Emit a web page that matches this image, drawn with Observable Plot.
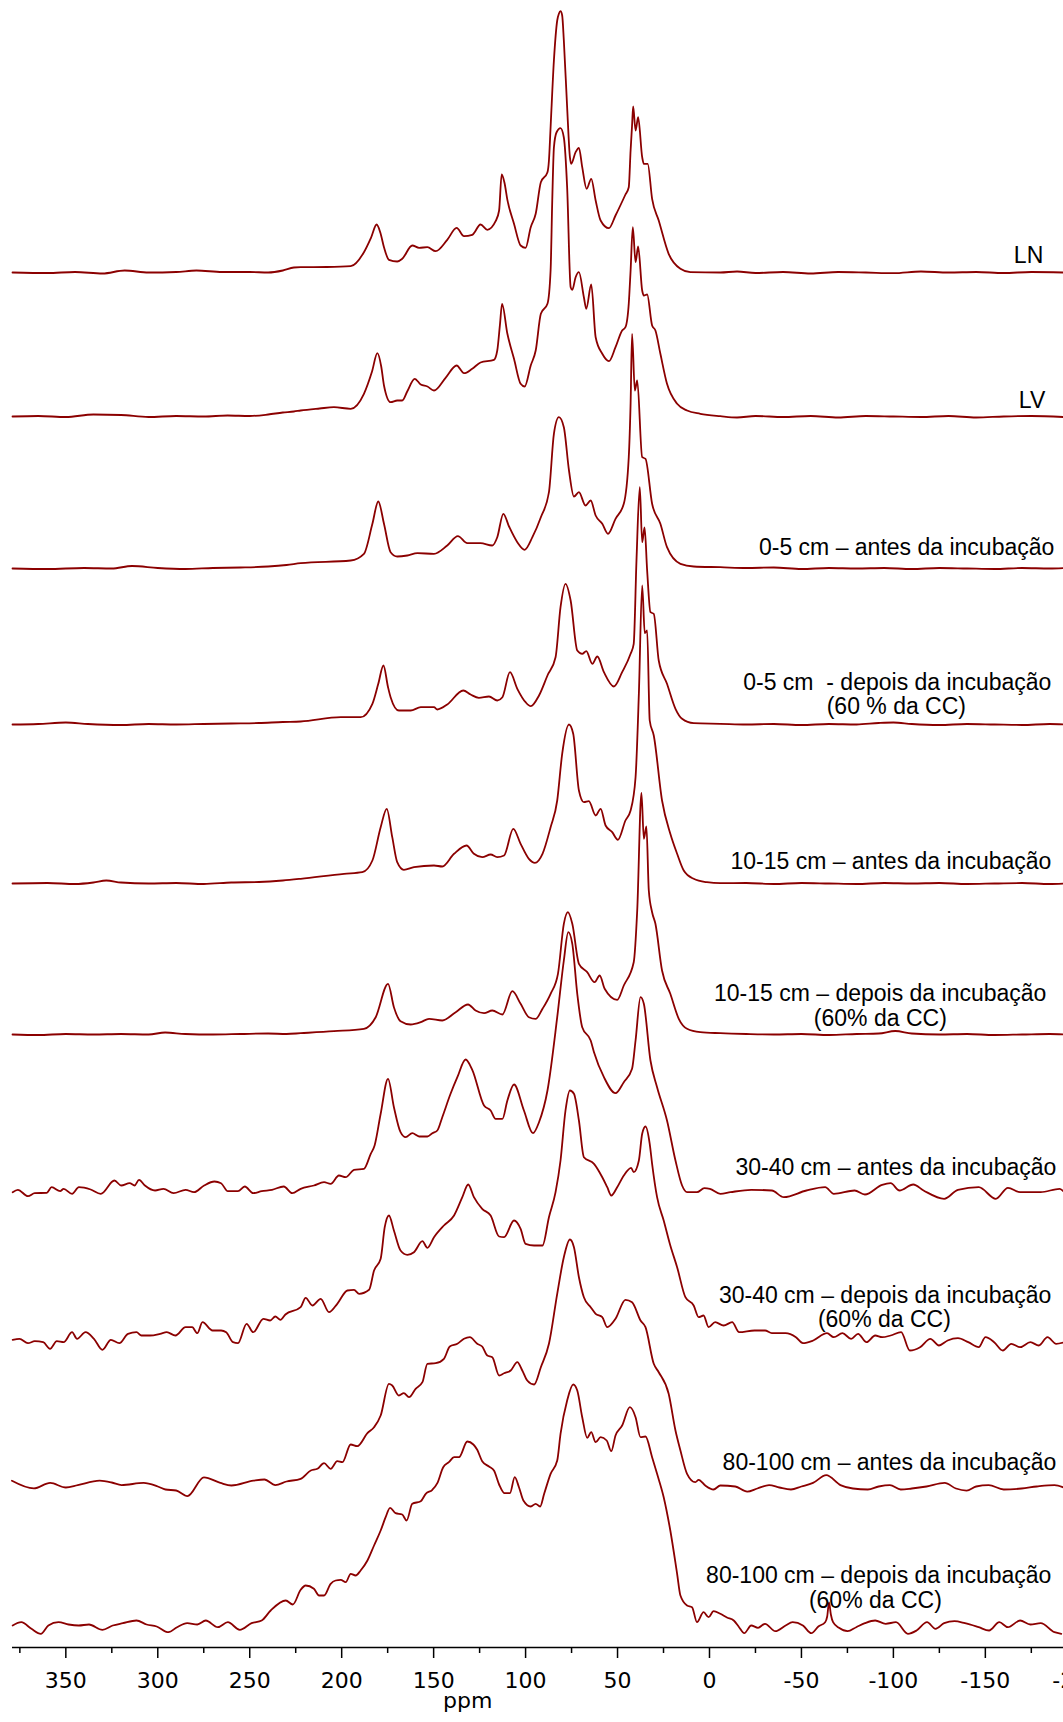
<!DOCTYPE html>
<html>
<head>
<meta charset="utf-8">
<script src="https://cdn.jsdelivr.net/npm/d3@7"></script>
<script src="https://cdn.jsdelivr.net/npm/@observablehq/plot@0.6"></script>
<style>
  html, body { margin: 0; padding: 0; background: #fff; overflow: hidden; }
  svg text { white-space: pre; }
</style>
</head>
<body>
<div id="chart"></div>
<script>
// 13C CP/MAS NMR spectra, stacked; each series is [chemical shift (ppm), intensity (a.u.)]
const sampleNames = [
  "LN",
  "LV",
  "0-5 cm – antes da incubação",
  "0-5 cm  - depois da incubação",
  "10-15 cm – antes da incubação",
  "10-15 cm – depois da incubação",
  "30-40 cm – antes da incubação",
  "30-40 cm – depois da incubação",
  "80-100 cm – antes da incubação",
  "80-100 cm – depois da incubação"
];
const moistureNotes = [null, null, null, "(60 % da CC)", null, "(60% da CC)", null, "(60% da CC)", null, "(60% da CC)"];

const majorTicks = [350, 300, 250, 200, 150, 100, 50, 0, -50, -100, -150, -200];
const minorTicks = [375, 325, 275, 225, 175, 125, 75, 25, -25, -75, -125, -175];
const axisTitle = "ppm";

const specLN = [[379,0],[360,-0.5],[345,0.5],[330,-1],[318,2],[305,0],[290,0.5],[279,2],[265,0.5],[250,0.5],[240,0],[232,2],[226,5],[222.3,5.3],[208,5.5],[195.1,6.3],[187.9,20.3],[184,35],[181,48],[179,40],[177,25.3],[174.3,12.7],[169.8,11],[167.1,13.7],[161.6,27],[157.9,24.7],[153.4,25.3],[148.9,21.3],[142.6,32.7],[137.5,44.7],[133.5,36.3],[129,37.7],[124.5,48],[120.8,42.7],[116.3,51.3],[114.4,62],[113,98],[111.5,90],[109.9,72.7],[106.3,48.7],[102.7,27],[100,24.7],[97.2,45.3],[94.5,58.7],[91.7,90.3],[88.1,100.3],[87.3,112],[86.4,145.3],[84.6,212],[82.8,252],[81.9,258.7],[81,261.3],[80.1,257],[79.2,232],[77.4,165],[75.9,115.3],[75.2,108.7],[72.8,120.3],[71,124.7],[69.2,105.3],[66.8,83.7],[64.3,93.7],[61.9,72],[59.2,52],[54.7,44.3],[51.1,57],[45.7,78],[43.9,85.3],[42.9,122],[42.1,147],[41.5,166],[40.2,142],[38.8,155.3],[36.6,115.3],[35.7,108.7],[33.6,108.7],[31.2,73.7],[27.6,52],[22.2,18.7],[15.8,3.7],[10.4,0.3],[-5.9,0],[-15,1],[-25,-0.5],[-40,0.5],[-55,-1],[-70,0.5],[-85,0],[-100,-0.7],[-115,1],[-130,0],[-145,0.5],[-160,-0.5],[-175,0.5],[-192.5,0]];

const specLV = [[379,0],[365,0.5],[350,-0.5],[335,2],[320,1.5],[305,-0.5],[290,0.5],[275,0],[262,1],[250,0.5],[240,2],[232,4],[226,5],[222.3,6],[212,8],[204.2,9.3],[195.1,7.7],[187.9,22.7],[183.5,45],[180.6,63.3],[178.5,50],[177,31],[173.4,14.3],[169.8,16],[167.1,16],[164.3,25.3],[160.3,37.7],[157,32],[153.4,30],[149.8,26],[143.5,38.7],[137.5,51],[133.5,43.3],[129,47.7],[124.5,54],[117.2,56.7],[115.4,66],[113.9,92.7],[112.8,112.7],[109.9,82.7],[106.3,57.7],[102.7,32.7],[100.5,30],[97.2,51],[94.5,66],[91.7,102.7],[88.1,112.7],[86.4,146],[85.5,216],[84.6,269],[83.2,284],[81,288.3],[79.2,279],[77.4,229],[75.5,129.3],[74.6,126.7],[72.8,139.3],[71,144.3],[68.3,119.3],[67,107.7],[64.3,132],[61.9,79.3],[58.3,62.7],[54.7,55.3],[51.1,69.3],[47.5,86],[45.7,89.3],[43.9,112.7],[42.9,146],[41.7,189.3],[40.2,154.3],[38.8,170],[36.6,126],[35.7,121],[33.9,122],[31.2,91],[29.4,86],[26.7,62.7],[23.1,32.7],[17.6,12.7],[12.2,6],[5,2.7],[-5.9,0.3],[-15,-1],[-25,0.5],[-40,-0.5],[-55,0.5],[-70,-1],[-85,0.5],[-100,0],[-115,-0.5],[-130,0.5],[-145,-1],[-160,0],[-175,0.5],[-192.5,-0.5]];

const spec05Before = [[379,0],[360,-0.5],[340,0.5],[325,0],[314,2.5],[300,0.5],[285,-0.5],[270,0.5],[255,1],[240,2],[230,3.5],[222.3,5.3],[195.1,8],[187.9,14.7],[183.3,44.7],[180.1,67],[177,44.7],[173.4,16.3],[169.8,12],[164.3,13],[158.8,15.3],[149.8,14.7],[142.6,23],[136.8,32.3],[131.7,25.3],[124.5,25.3],[118.1,23],[115.4,31.3],[112.1,54.7],[109,42],[104.5,26.3],[100.5,18.7],[96.3,31.3],[91.7,51.3],[87.3,76.3],[84.6,134.7],[81.9,151.3],[79.2,141.3],[76.4,98],[73.7,72],[71,76.3],[67.4,63],[64.6,68],[61.9,53],[58.3,44.7],[55.2,34.7],[51.1,49.7],[46.6,64.7],[43.9,111.3],[42.9,164.7],[42.1,234.7],[40.6,178],[39.3,188],[36.6,111.3],[34.8,109.7],[31.2,64.7],[26.7,44.7],[23.1,21.3],[15.8,4.7],[8.6,2],[-5.9,1.3],[-20,0.5],[-35,1],[-50,-0.5],[-65,0.5],[-80,0],[-95,0.5],[-110,-0.5],[-125,0.5],[-140,0],[-155,-0.5],[-170,0.5],[-185,0],[-192.5,0.5]];

const spec05After = [[379,0],[365,0.5],[350,2],[338,0.5],[320,-0.5],[305,0.5],[290,0],[275,0.5],[260,1],[245,1.5],[232,2.5],[222.3,3],[200.5,7.3],[189.7,7.3],[183.3,20.7],[180.1,40.7],[177.3,59],[174.8,37.3],[173.4,27.3],[168.9,14],[162.5,14],[157,17.3],[149.8,17.3],[148,15],[142.6,20],[133.9,34],[129.9,30],[125.4,26.7],[119.9,28],[115.4,24],[112.6,27.3],[108.5,52.3],[104.5,35.7],[100,22.3],[97.2,18.3],[92.7,29],[88.1,49],[83.7,67.3],[81,117.3],[78.3,140.7],[75.5,124],[71.9,74],[69.2,70.7],[67,73.3],[63.7,60.7],[61,68],[57.4,52.3],[52,38],[47.5,52.3],[42.9,70.7],[41.2,80.7],[39.7,164],[37.9,237.3],[36.6,182.3],[35.3,197],[33.9,154],[32.1,112.3],[30.3,110.7],[27.6,64],[23.1,40.7],[18.5,15.7],[14.9,5.7],[8.6,1.3],[-5.9,0.7],[-20,0],[-35,0.5],[-50,-0.5],[-65,0.5],[-80,0],[-92,1.5],[-100,2],[-110,0.5],[-125,-0.5],[-140,0.5],[-155,0],[-170,-0.5],[-185,0.5],[-192.5,0]];

const spec1015Before = [[379,0],[360,0.5],[345,-0.5],[335,1],[328,3],[320,1],[305,0],[290,0.5],[275,-0.5],[260,1],[245,1.5],[232,3],[222.3,4.7],[198.7,9.7],[188.8,11.3],[183.3,23],[178.8,56.3],[175.5,74.7],[172.5,46.3],[169.8,21.3],[166.2,13.7],[160.7,16.3],[149.8,18],[145.3,17],[138.9,29.7],[132.1,38],[128.1,29.7],[123.6,26.3],[119,29],[115.4,26.3],[111.7,28],[106.7,54.7],[102.7,39.7],[98.2,24.7],[94.9,20.7],[90.8,29.7],[86.4,56.3],[82.8,83],[80.1,129.7],[76.4,159],[74.1,149.7],[71,93],[68.3,81.3],[65.6,82.3],[61.9,68],[59.2,74.7],[56.5,58],[52.9,51.3],[49.8,43.7],[45.7,63],[42.9,73],[40.2,106.3],[38.4,189.7],[36.6,298],[35.2,250.3],[33.9,253],[32.5,163],[30.3,148],[25.8,83],[21.3,49.7],[17.6,29.7],[14,13],[8.6,4.7],[1.4,1.3],[-5.9,0.3],[-20,0.5],[-35,-0.5],[-50,0.5],[-65,0],[-80,-0.5],[-95,0.5],[-110,0],[-125,0.5],[-140,-0.5],[-155,0],[-170,0.5],[-185,-0.5],[-192.5,0]];

const spec1015After = [[379,0],[365,-0.5],[350,0.5],[335,0],[320,0.5],[305,0],[296,2],[285,0.5],[270,0],[255,0.5],[240,1],[230,0.5],[222.3,1.3],[204.2,3.3],[187.9,5.7],[181.5,17.3],[174.8,50.7],[171.6,27.3],[168,13.3],[162.5,10],[157,12.3],[152.5,15.7],[145.3,14],[138,22.3],[131.3,30],[127.2,24],[122.6,21.3],[118.1,24],[112.6,20],[107.2,43.3],[102.7,30.7],[98.2,17.3],[94.5,15.7],[90.8,25.7],[86.4,40.7],[82.4,60.7],[79.2,110.7],[77,122.3],[74.6,110.7],[71,70.7],[66.5,62.3],[62.5,52.3],[59.7,59],[57,45.7],[50.2,34.7],[46.6,49],[41.2,72.3],[39.3,124],[37,241.7],[35.7,195.7],[34.3,208],[33,144],[31.2,122.3],[29.4,110.7],[25.8,64],[21.3,40.7],[16.7,15.7],[12.2,5.7],[5,2.3],[-5.9,1.3],[-20,0.5],[-35,0],[-50,0.5],[-65,-0.5],[-80,0.5],[-92,1],[-101,3.5],[-110,1],[-125,0],[-140,0.5],[-155,-0.5],[-170,0],[-185,0.5],[-192.5,0]];

const spec3040Before = [[378.9,-0.7],[376.1,1.7],[370.6,-4.7],[366.9,-1.7],[360.4,-1.3],[357.7,4.3],[353.1,0.3],[351.2,2.7],[346.6,-2.3],[342.9,4.3],[336.5,2],[331,-2.3],[323.6,11],[319.9,6],[315.3,8.3],[312.6,6],[310.2,11.7],[307,6],[301.5,1],[296.9,2.7],[291.4,-1.7],[284.9,1.7],[280.3,-0.7],[274.8,6],[269.2,10],[265.6,8.3],[261.9,0.3],[256.4,0.3],[252.7,5],[248.1,-1.7],[243.5,0.3],[237.9,1.7],[231.5,5],[226.9,-1.7],[222.3,2.7],[215.1,6],[209.6,9.3],[206,7.7],[201.5,16],[197.8,14.3],[193.3,21.7],[187.9,22.7],[184.2,37.7],[182.1,46],[178.8,77.7],[174.8,112.7],[171.6,84.3],[168,59.3],[165.2,54.3],[161.6,58.3],[157.9,55],[153.4,55],[150.7,58.3],[148,61],[145.3,74.3],[140.8,97.7],[137.1,114.3],[132.6,132],[129,121.7],[122.6,86],[119,81],[116.3,72.7],[112.6,72.7],[109.9,91],[106.3,107],[100.9,81],[96,58.3],[92.7,69.3],[88.1,101],[82.8,174.3],[79.2,231],[76.8,259.3],[74.6,247.7],[71.9,197.7],[69.2,164.3],[64.6,151],[62.8,139.3],[57.4,114.3],[51.1,98.3],[46.6,109.3],[42.1,122.7],[40.2,151],[37.5,194.3],[35.7,187.7],[32.1,131],[28.5,104.3],[23.1,71],[18.5,31],[14.9,6],[12.2,-0.7],[6.8,-0.7],[2.8,3.3],[-0.2,2.7],[-5.9,-2.3],[-11.4,-0.7],[-22.7,1.7],[-33.9,1],[-40.4,-5.7],[-52.7,1],[-62.9,4.3],[-67.6,-2.3],[-78.9,1],[-84.5,-3],[-93.9,6.7],[-98.5,8.3],[-103.3,1],[-110.8,7],[-116.4,1],[-127.6,-7.3],[-135.1,1.7],[-146.4,4.3],[-155.7,-7.3],[-162.3,3.7],[-168.9,-0.7],[-180.1,-0.7],[-190.4,2.7],[-192.5,0]];

const spec3040After = [[378.9,2.7],[375.2,3.7],[370.6,-0.7],[366.9,1.3],[362.3,0.3],[358.6,-6.3],[354.9,1.3],[351.2,0.3],[346.6,10.3],[343.9,3.7],[339.3,10.3],[334.7,3.7],[330.1,-7.3],[325.5,2.7],[320.9,-0.7],[316.2,8.7],[311.6,10.3],[308.9,7],[304.2,7],[298.7,8.7],[295.1,10.3],[290.4,7],[284.9,15.3],[281.3,15.3],[278.5,9.3],[275.7,20.3],[270.2,12],[265.6,12],[262.8,10.3],[259.1,0.3],[256.4,-0.7],[251.7,18.7],[248.1,10.3],[242.6,23.7],[238.9,22],[236.1,26],[233.3,22.7],[230.6,28],[222.3,35.3],[219.6,44.7],[215.9,37],[211.4,43.7],[206.9,30.3],[202.4,38.7],[196.9,52],[193.3,52.7],[190.5,48.7],[185.1,52.7],[182.4,72],[178.8,83.7],[176.6,115.3],[174.3,127],[171.6,112],[168,92],[164.3,87.7],[160.7,90.3],[156.1,101.3],[153.4,94.7],[149.8,105.3],[144.4,117],[138.9,127],[134.4,145.3],[131.2,158],[128.1,145.3],[123.6,133.7],[119,127],[114.4,106],[111.7,105.3],[106.3,122],[102.7,113.7],[100,98.7],[95.4,97],[90.8,97],[87.3,125.3],[83.7,150.3],[81,182],[78.3,232],[75.9,252],[73.7,248.7],[71,222],[68.3,185.3],[62.8,178.7],[58.3,165.3],[55.6,155.3],[53.4,147],[50.2,155.3],[46.6,167],[42.6,174.7],[41.2,170.3],[38.4,182],[36.6,208.7],[34.8,216],[32.5,198.7],[31.2,178.7],[28.5,145.3],[24.9,122],[21.3,97],[17.6,75.3],[13.1,45.3],[8.6,37],[5.9,25.3],[3.2,27],[0.5,15.3],[-3.1,20.3],[-7.7,17],[-12.3,20.3],[-16.1,10.3],[-24.5,12],[-30.2,12],[-33.9,9.3],[-41.4,9.3],[-47,5.3],[-50.8,-0.7],[-56.4,2],[-63.9,9.3],[-67.6,5.3],[-72.3,9.3],[-77,3.7],[-80.8,8.7],[-85.4,0.3],[-90.1,7],[-93.9,5.3],[-98.5,7],[-104.2,10.3],[-108.9,-8],[-114.5,-4.7],[-120.1,3.7],[-124.8,-3],[-129.5,2],[-135.1,4.3],[-140.7,0.3],[-146.4,-4.7],[-150.1,5.3],[-154.8,0.3],[-159.5,-8],[-164.1,-1.3],[-168.9,-4.7],[-174.5,0.3],[-179.1,-3],[-183.8,5.3],[-188.5,-1.3],[-192.5,0]];

const spec80100Before = [[379.3,6.8],[367.4,-0.9],[358.5,4.6],[350,0],[343.5,2.4],[331.6,6.8],[325,5],[319.7,2.4],[307.7,4.6],[300,1],[295.8,-2],[290,-3],[283.9,-8.6],[274.9,10.1],[266,4.6],[260,2],[248,6.8],[242,8],[236.1,2.4],[230,6],[222.3,8.7],[216.8,17],[213.2,18.7],[209.6,24.3],[206,18.7],[202.4,26.3],[199.6,25.3],[195.1,43],[191.5,41.3],[186,54.3],[182.4,60.3],[178.8,72],[174.3,103.7],[172.5,102],[168.9,92],[166.2,94.3],[163.4,90.3],[159.8,98.7],[156.1,105.3],[153.4,123.7],[148.9,124.3],[144.4,128.7],[141.2,141],[137.1,143.7],[133.5,148.7],[130.3,150.3],[126.3,143.7],[123.6,141],[120.8,132],[118.1,130.3],[114.4,112],[111.7,114.3],[108.1,117],[104.5,125.3],[101.8,117],[99.1,107],[95.4,103],[91.7,120.3],[87.3,143.7],[82.8,193.7],[79.2,230.3],[75.9,248],[73.7,240.3],[71,210.3],[68.3,190.3],[64.6,180.3],[61.9,173.7],[58.3,170.3],[55.6,160.3],[51.1,168.7],[45.7,187.7],[42.1,185.3],[37.5,167],[34.8,160.3],[30.3,123.7],[27.6,115.3],[22.2,93.7],[18.5,57],[15.8,37],[12.2,13.7],[7.7,5.3],[5.9,7.7],[2.3,2],[-2.2,-2],[-5.9,2],[-14,1],[-20.5,-4.2],[-26,-1],[-32.4,2.4],[-38,0],[-44.3,-2],[-50,1],[-56.3,4.6],[-63.5,12.3],[-71.2,2.4],[-78,-1],[-86.1,-2],[-92,1],[-98.1,2.4],[-104,-2],[-110,-1],[-118,1],[-127.9,4.6],[-134,-1],[-139.8,-3.1],[-145,1],[-151.8,2.4],[-160,-2],[-169.7,-1],[-178,1],[-187.6,2.4],[-192.5,0]];

const spec80100After = [[378.9,-3],[374.2,0.3],[368.7,-6.3],[363.6,-11.3],[359.5,-3],[354,0.3],[348.5,-2],[343,-3],[337.4,-2],[330.1,-7.3],[324.5,-3],[319,-0.7],[311.6,2],[306.1,-2],[300.6,-4],[294.2,-9.7],[289.5,-4.7],[284,-0.7],[278.5,-2],[273.9,2],[267.4,-4.7],[261.9,0.3],[255.4,-7.3],[249,-0.7],[243.5,2],[238.6,12],[230.4,22],[226.6,18],[222.3,32.7],[219.6,37],[215.1,33.7],[212.3,27],[209.6,27],[206,38.7],[203.3,42],[200.5,42.7],[197.8,40.3],[195.1,48.7],[192.4,47],[189.7,52],[186,62],[182.4,77],[178.8,92],[176.1,105.3],[173.7,114.7],[170.7,109.3],[167.1,108],[164.7,102],[161.6,118.7],[157,121.3],[154.3,128.7],[150.7,132.7],[148,139.3],[144.8,155.3],[141.7,160.3],[138.9,165.3],[136.2,165.3],[131.7,181],[128.4,178],[126.3,172.7],[123.6,161.3],[119.9,156],[117.2,152],[114.4,138],[111.4,129.3],[108.5,129.3],[105.9,145.3],[103.6,135.3],[101.2,122],[97.2,116],[94.5,118.7],[92.1,116],[89.9,128.7],[86.4,148.7],[82.8,162],[81,188.7],[77.4,222],[74.1,238],[71.9,232],[69.2,205.3],[66.5,184.7],[64.3,190.3],[61.9,180.3],[59.2,185.3],[55.9,182],[53.4,171.3],[51.1,187],[47.5,197],[43.3,215.3],[40.2,205.3],[37.5,185.3],[34.8,186],[31.2,165.3],[28.5,148.7],[24.9,125.3],[21.3,92],[17.6,48.7],[15.8,27],[12.2,17],[9.5,15.3],[6.8,0.3],[3.2,10.3],[0.5,5.3],[-2.2,11.3],[-5.9,8.7],[-9.5,5],[-13.2,2],[-16.1,-4.7],[-18.9,-10.7],[-22.7,-3],[-26.4,-5.3],[-30.2,-1.3],[-35.8,-8.7],[-41.4,-3],[-45.2,0.3],[-50.8,-3],[-55.4,-10.7],[-59.2,-4],[-62.9,0.3],[-64,6],[-65,20],[-66,8],[-67.2,0.3],[-70.4,-5.3],[-75.1,-8.7],[-79.8,-4.7],[-84.5,-0.7],[-90.1,2],[-95.8,-1.3],[-101.4,0.3],[-107.9,-11.3],[-112.6,-8],[-118.3,0.3],[-122.9,-6.3],[-127.6,-0.7],[-133.2,1.3],[-138.9,-0.7],[-146.4,-4.7],[-152,-8],[-157.6,0.3],[-162.3,-4.7],[-168.9,2],[-174.5,-2],[-180.1,-0.7],[-187.6,-9.7],[-191.3,-11.3]];

const spectra = [specLN, specLV, spec05Before, spec05After, spec1015Before, spec1015After,
                 spec3040Before, spec3040After, spec80100Before, spec80100After];

// Vertical stacking: baseline of each spectrum in intensity units
const stackOffset = [1375, 1231, 1079, 923, 764, 613, 456, 305, 160, 25];

// Label layout: right end (ppm) and height above the baseline for each sample name,
// plus centre (ppm) and height of the moisture note under it.
const nameRightPpm = [-181.5, -182.6, -187.5, -185.9, -185.9, -183.2, -188.6, -185.9, -188.6, -185.9];
const nameLift     = [17, 16, 21, 42, 22, 41, 24, 47, 25, 47];
const noteCenterPpm = [0, 0, 0, -101.6, 0, -92.9, 0, -95.1, 0, -90.2];
const noteLift      = [0, 0, 0, 18, 0, 16, 0, 23, 0, 22];

const traceColor = "#8b0000";
const labelFont = "Liberation Sans, Arial, sans-serif";
const axisFont = "DejaVu Sans, sans-serif";

const rows = spectra.flatMap((pts, i) =>
  pts.map(([ppm, v]) => ({series: i, ppm, level: stackOffset[i] + v}))
);

const nameRows = sampleNames.map((text, i) => ({
  text, ppm: nameRightPpm[i], level: stackOffset[i] + nameLift[i]
}));
const noteRows = moistureNotes
  .map((text, i) => ({text, ppm: noteCenterPpm[i], level: stackOffset[i] + noteLift[i]}))
  .filter(d => d.text);

const chart = Plot.plot({
  width: 1063,
  height: 1722,
  marginLeft: 12,
  marginRight: 0,
  marginTop: 0,
  marginBottom: 75,
  style: {background: "#fff", color: "#000", overflow: "visible"},
  x: {domain: [379, -192.5], label: null},
  y: {domain: [0, 1647], axis: null, label: null},
  marks: [
    Plot.line(rows, {
      x: "ppm", y: "level", z: "series",
      stroke: traceColor, strokeWidth: 1.8, curve: "monotone-x"
    }),
    Plot.text(nameRows, {
      x: "ppm", y: "level", text: "text", textAnchor: "end",
      fontSize: 23, fontFamily: labelFont, fill: "#000"
    }),
    Plot.text(noteRows, {
      x: "ppm", y: "level", text: "text", textAnchor: "middle",
      fontSize: 23, fontFamily: labelFont, fill: "#000"
    }),
    Plot.ruleY([0], {stroke: "#000", strokeWidth: 1.6}),
    Plot.axisX(minorTicks, {
      anchor: "bottom", tickSize: 6, tickFormat: () => "", strokeWidth: 1.5, label: null
    }),
    Plot.axisX(majorTicks, {
      anchor: "bottom", tickSize: 11, tickPadding: 14, tickFormat: d => String(d),
      fontSize: 22, fontFamily: axisFont, strokeWidth: 1.5, label: null
    }),
    Plot.text([axisTitle], {
      x: () => 131.5, frameAnchor: "bottom", dy: 60, text: d => d,
      fontSize: 22, fontFamily: axisFont, fill: "#000"
    })
  ]
});

document.getElementById("chart").appendChild(chart);
</script>
</body>
</html>
